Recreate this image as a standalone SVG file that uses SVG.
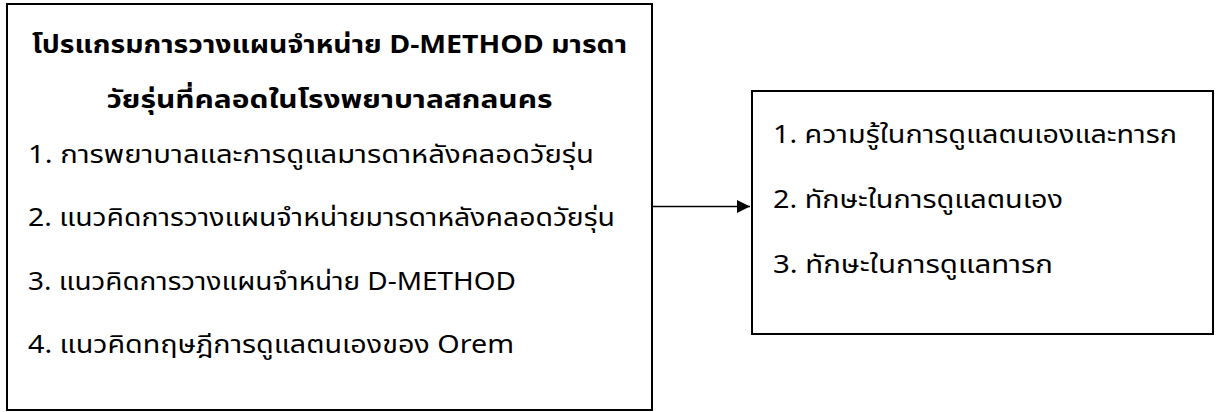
<svg xmlns="http://www.w3.org/2000/svg" width="1216" height="412" viewBox="0 0 1216 412">
<style>
.box{fill:#fff;stroke:#000;stroke-width:2}
.t{font-family:"Noto Sans Thai","Noto Sans","DejaVu Sans",sans-serif;font-size:25px;fill:#000}
.b{font-weight:bold}
.conn{stroke:#000;stroke-width:1.5;fill:none}
</style>
<defs>
<marker id="ah" markerWidth="14" markerHeight="14" refX="13" refY="6.5" orient="auto" markerUnits="userSpaceOnUse">
<path d="M0,0 L13,6.5 L0,13 Z" fill="#000"/>
</marker>
</defs>
<rect width="1216" height="412" fill="#fff"/>
<g id="program">
<rect class="box" x="7" y="4" width="645" height="406"/>
<text class="t b" x="32" y="53" textLength="595" lengthAdjust="spacingAndGlyphs">โปรแกรมการวางแผนจำหน่าย D-METHOD มารดา</text>
<text class="t b" x="106.5" y="108" textLength="446" lengthAdjust="spacingAndGlyphs">วัยรุ่นที่คลอดในโรงพยาบาลสกลนคร</text>
<text class="t" x="28" y="163" textLength="566" lengthAdjust="spacingAndGlyphs">1. การพยาบาลและการดูแลมารดาหลังคลอดวัยรุ่น</text>
<text class="t" x="28" y="226" textLength="587" lengthAdjust="spacingAndGlyphs">2. แนวคิดการวางแผนจำหน่ายมารดาหลังคลอดวัยรุ่น</text>
<text class="t" x="28" y="290" textLength="488" lengthAdjust="spacingAndGlyphs">3. แนวคิดการวางแผนจำหน่าย D-METHOD</text>
<text class="t" x="28" y="353" textLength="486" lengthAdjust="spacingAndGlyphs">4. แนวคิดทฤษฎีการดูแลตนเองของ Orem</text>
</g>
<g id="outcome">
<rect class="box" x="752" y="91" width="461" height="243"/>
<text class="t" x="773" y="143" textLength="404" lengthAdjust="spacingAndGlyphs">1. ความรู้ในการดูแลตนเองและทารก</text>
<text class="t" x="773" y="208" textLength="290" lengthAdjust="spacingAndGlyphs">2. ทักษะในการดูแลตนเอง</text>
<text class="t" x="773" y="273" textLength="280" lengthAdjust="spacingAndGlyphs">3. ทักษะในการดูแลทารก</text>
</g>
<g id="connectors">
<line class="conn" x1="652" y1="206.5" x2="750" y2="206.5" marker-end="url(#ah)"/>
</g>
</svg>
